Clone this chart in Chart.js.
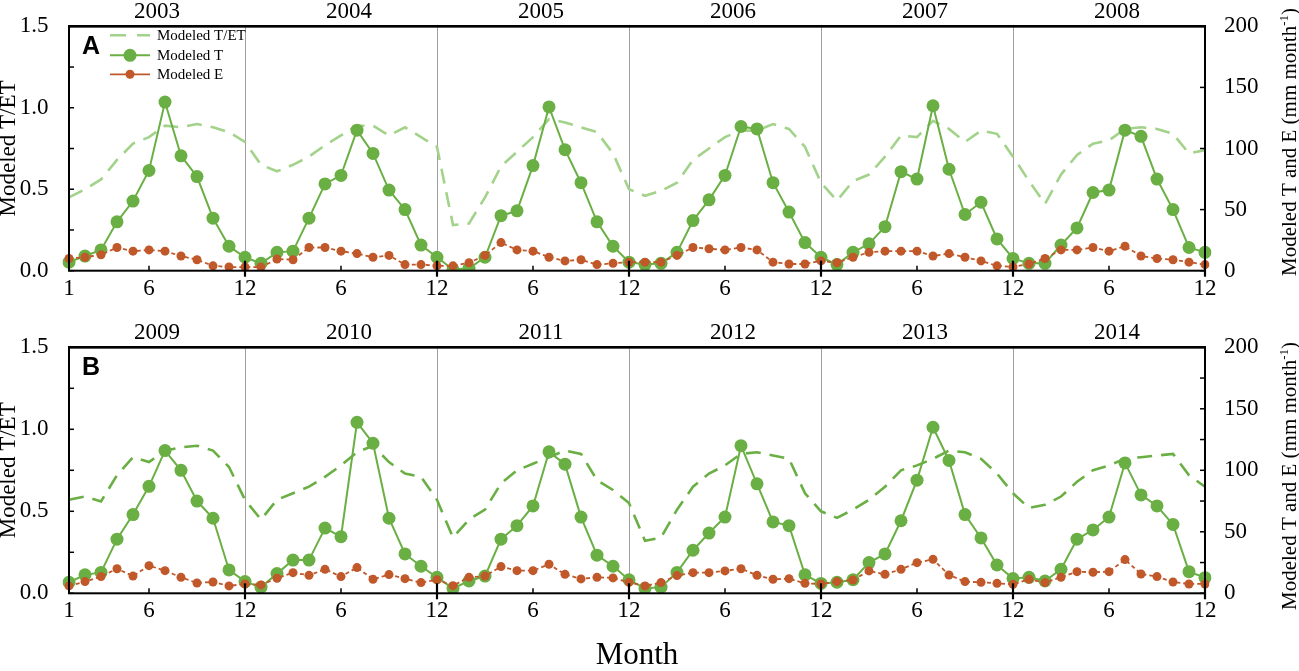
<!DOCTYPE html>
<html>
<head>
<meta charset="utf-8">
<script src="https://cdn.jsdelivr.net/npm/chart.js@4.4.1/dist/chart.umd.min.js"></script>
<style>
  html, body { margin: 0; padding: 0; background: #fff; }
  #wrap { position: relative; width: 1299px; height: 671px; }
  .panel { position: absolute; left: 0; width: 1299px; }
  #pa { top: 0; height: 300px; }
  #pb { top: 300px; height: 371px; }
</style>
</head>
<body>
<div id="wrap">
  <div class="panel" id="pa"><canvas id="chartA"></canvas></div>
  <div class="panel" id="pb"><canvas id="chartB"></canvas></div>
</div>
<script>
// ---- data ----
const months = [1, 2, 3, 4, 5, 6, 7, 8, 9, 10, 11, 12];
const labelMonths = [6, 12];          // months that get an x label (plus the very first "1")
const yearsA = ['2003', '2004', '2005', '2006', '2007', '2008'];
const yearsB = ['2009', '2010', '2011', '2012', '2013', '2014'];
const seriesNames = ['Modeled T/ET', 'Modeled T', 'Modeled E'];

// panel A, modeled T/ET (left axis)
const ratioA = [
  0.45, 0.50, 0.56, 0.68, 0.78, 0.82, 0.89, 0.88, 0.90, 0.88, 0.85, 0.79,
  0.65, 0.61, 0.65, 0.70, 0.77, 0.83, 0.89, 0.89, 0.83, 0.88, 0.82, 0.76,
  0.28, 0.29, 0.45, 0.64, 0.73, 0.82, 0.93, 0.91, 0.88, 0.85, 0.72, 0.50,
  0.46, 0.49, 0.54, 0.68, 0.75, 0.82, 0.86, 0.86, 0.90, 0.87, 0.76, 0.54,
  0.43, 0.55, 0.59, 0.70, 0.83, 0.82, 0.92, 0.87, 0.79, 0.86, 0.84, 0.70,
  0.55, 0.41, 0.59, 0.71, 0.78, 0.80, 0.87, 0.88, 0.87, 0.84, 0.72, 0.74
];
// panel A, modeled T (mm month-1, right axis)
const transA = [
  7, 12, 17, 40, 57, 82, 138, 94, 77, 43, 20, 11,
  6, 15, 16, 43, 71, 78, 115, 96, 66, 50, 21, 11,
  1, 2, 11, 45, 49, 86, 134, 99, 72, 40, 20, 7,
  5, 6, 15, 41, 58, 78, 118, 116, 72, 48, 23, 11,
  5, 15, 22, 36, 81, 75, 135, 83, 46, 56, 26, 10,
  6, 6, 21, 35, 64, 66, 115, 110, 75, 50, 19, 15
];
// panel A, modeled E (mm month-1, right axis)
const evapA = [
  10, 11, 13, 19, 16, 17, 16, 12, 9, 4, 3, 3,
  3, 9.5, 9, 19, 19, 16, 14, 11, 12.5, 5, 5, 4,
  4, 6.5, 12.5, 23, 17, 16, 11, 8, 9, 5, 6, 7,
  7, 7, 12.5, 19, 18, 17, 19, 17, 7, 5.5, 5.5, 8,
  6.5, 11, 15, 16, 16, 16, 12, 14, 11, 8, 4, 3,
  5.5, 10, 17, 17, 19, 16, 20, 12, 10, 9, 7, 5
];
// panel B
const ratioB = [
  0.57, 0.59, 0.56, 0.72, 0.83, 0.80, 0.87, 0.89, 0.90, 0.87, 0.77, 0.57,
  0.45, 0.57, 0.61, 0.65, 0.71, 0.78, 0.86, 0.90, 0.80, 0.73, 0.71, 0.57,
  0.34, 0.45, 0.51, 0.67, 0.75, 0.79, 0.83, 0.87, 0.85, 0.69, 0.63, 0.55,
  0.32, 0.34, 0.51, 0.65, 0.73, 0.78, 0.85, 0.86, 0.84, 0.82, 0.61, 0.50,
  0.46, 0.51, 0.57, 0.65, 0.75, 0.78, 0.82, 0.87, 0.86, 0.82, 0.73, 0.61,
  0.52, 0.54, 0.59, 0.68, 0.75, 0.78, 0.82, 0.83, 0.84, 0.85, 0.72, 0.65
];
const transB = [
  9, 15, 17, 44, 64, 87, 116, 100, 75, 61, 19, 9.5,
  5, 16, 27, 27, 53, 46, 139, 122, 61, 32, 22, 13,
  4, 10, 14, 44, 55, 71, 115, 105, 62, 31, 22, 11,
  4, 5, 17, 35, 49, 62, 120, 89, 58, 55, 15, 8,
  9, 11, 25, 32, 59, 92, 135, 108, 64, 45, 23, 12,
  13, 10, 19.5, 44, 51.5, 62, 106, 80, 71, 56, 17.6, 12.7
];
const evapB = [
  6, 9.5, 13.6, 20, 14, 22.5, 18.4, 13, 8.4, 9.2, 6, 7.6,
  6.8, 12.2, 16.8, 14.6, 19.5, 13.6, 20.9, 11.4, 15.2, 11.9, 8.7, 11,
  6.2, 13, 14, 21.7, 18.4, 18.4, 23.6, 15.4, 11.7, 13, 12.5, 8.9,
  6, 8.7, 14.4, 16.8, 16.8, 18.2, 20, 14.6, 11.4, 11.9, 8.1, 7.6,
  9.5, 10.8, 18.2, 15.4, 19.5, 24.9, 27.6, 14.9, 9.5, 8.9, 8.1, 7.3,
  11.4, 8.7, 13, 17.6, 17.1, 17.6, 27.4, 15.7, 13.6, 9.2, 7.6, 7.6
];

const GREEN = '#6aaf43';
const LIGHT_GREEN = '#a3d28b';
const ORANGE = '#c0582a';
const SERIF = '"Liberation Serif", "Times New Roman", serif';
const SANS = '"Liberation Sans", Arial, sans-serif';

// frame, inward ticks, year labels, panel letter, right title, legend
const panelDecor = {
  id: 'panelDecor',
  afterDraw(chart, args, o) {
    const { ctx, chartArea: a } = chart;
    const x = chart.scales.x, yl = chart.scales.yL, yr = chart.scales.yR;
    const line = (x1, y1, x2, y2) => { ctx.beginPath(); ctx.moveTo(x1, y1); ctx.lineTo(x2, y2); ctx.stroke(); };
    ctx.save();
    ctx.strokeStyle = '#000';

    ctx.lineWidth = 1.5;
    yl.ticks.forEach(t => { const py = yl.getPixelForValue(t.value); line(a.left, py, a.left + 5, py); });
    yr.ticks.forEach(t => { const py = yr.getPixelForValue(t.value); line(a.right - 5, py, a.right, py); });
    x.ticks.forEach(t => {
      const m = months[t.value % 12];
      const px = x.getPixelForValue(t.value);
      if (m === 6) { ctx.lineWidth = 1.5; line(px, a.bottom, px, a.bottom - 5); }
      if (m === 12) { ctx.lineWidth = 2.2; line(px, a.bottom + 6, px, a.bottom - 10); }
    });

    ctx.lineWidth = 2;
    ctx.strokeRect(a.left, a.top, a.right - a.left, a.bottom - a.top);
    ctx.lineWidth = 2.6;
    line(a.left - 1, a.top, a.right + 1, a.top);

    ctx.fillStyle = '#000';
    ctx.font = '23px ' + SERIF;
    ctx.textAlign = 'center';
    ctx.textBaseline = 'middle';
    o.years.forEach((y, k) => ctx.fillText(y, x.getPixelForValue(k * 12 + 5.5), a.top - 14));

    ctx.font = 'bold 25px ' + SANS;
    ctx.textAlign = 'left';
    ctx.textBaseline = 'alphabetic';
    ctx.fillText(o.letter, 82, a.top + 28);

    // right axis title, reading bottom to top, with superscript -1
    const main = 'Modeled T and E (mm month', sup = '-1', tail = ')';
    ctx.font = '21px ' + SERIF;
    const wMain = ctx.measureText(main).width, wTail = ctx.measureText(tail).width;
    ctx.font = '13px ' + SERIF;
    const wSup = ctx.measureText(sup).width;
    const total = wMain + wSup + wTail;
    ctx.save();
    ctx.translate(1296, o.rightTitleY);
    ctx.rotate(-Math.PI / 2);
    ctx.textAlign = 'left';
    let cx = -total / 2;
    ctx.font = '21px ' + SERIF; ctx.fillText(main, cx, 0); cx += wMain;
    ctx.font = '13px ' + SERIF; ctx.fillText(sup, cx, -8); cx += wSup;
    ctx.font = '21px ' + SERIF; ctx.fillText(tail, cx, 0);
    ctx.restore();

    if (o.legend) {
      const ds = chart.data.datasets;
      const rows = [a.top + 9, a.top + 29, a.top + 48];
      ds.forEach((d, i) => {
        const ry = rows[i];
        ctx.strokeStyle = d.borderColor;
        ctx.lineWidth = d.borderWidth;
        ctx.setLineDash(i === 0 ? [16, 11] : []);
        line(110, ry, 150, ry);
        ctx.setLineDash([]);
        if (d.pointRadius > 0) {
          ctx.fillStyle = d.pointBackgroundColor;
          ctx.beginPath(); ctx.arc(130, ry, d.pointRadius, 0, Math.PI * 2); ctx.fill();
        }
        ctx.fillStyle = '#000';
        ctx.font = '15px ' + SERIF;
        ctx.textBaseline = 'middle';
        ctx.fillText(d.label, 157, ry + 1);
      });
    }
    ctx.restore();
  }
};

function makePanel(id, years, ratio, trans, evap, cfg) {
  const categories = years.flatMap(y => months.map(m => y + '-' + m));
  const last = categories.length - 1;
  return new Chart(document.getElementById(id), {
    type: 'line',
    data: {
      labels: categories,
      datasets: [
        { label: seriesNames[0], data: ratio, yAxisID: 'yL', borderColor: cfg.ratioColor,
          borderWidth: 2.6, borderDash: [15, 9], pointRadius: 0, tension: 0, order: 3 },
        { label: seriesNames[1], data: trans, yAxisID: 'yR', borderColor: GREEN,
          borderWidth: 2, pointRadius: 6.5, pointBorderWidth: 0,
          pointBackgroundColor: GREEN, tension: 0, order: 2 },
        { label: seriesNames[2], data: evap, yAxisID: 'yR', borderColor: ORANGE,
          borderWidth: 1.8, borderDash: [4, 3], pointRadius: 4.5, pointBorderWidth: 0,
          pointBackgroundColor: ORANGE, tension: 0, order: 1 }
      ]
    },
    options: {
      responsive: true,
      maintainAspectRatio: false,
      animation: false,
      events: [],
      layout: { padding: { top: cfg.padTop, left: 0, right: 0, bottom: 0 } },
      plugins: {
        legend: { display: false },
        tooltip: { enabled: false },
        panelDecor: { years: years, letter: cfg.letter, legend: cfg.legend, rightTitleY: cfg.rightTitleY }
      },
      scales: {
        x: {
          type: 'category',
          offset: false,
          afterFit: s => { s.height = cfg.xHeight; },
          border: { display: false },
          grid: {
            drawTicks: false,
            lineWidth: 1,
            color: c => (c.index % 12 === 11 && c.index < last) ? '#a0a0a0' : 'rgba(0,0,0,0)'
          },
          ticks: {
            autoSkip: false, maxRotation: 0, padding: 4, color: '#000',
            font: { family: SERIF, size: 23 },
            callback: (v, i) => {
              if (i === 0) return String(months[0]);
              const m = months[i % 12];
              return labelMonths.includes(m) ? String(m) : '';
            }
          },
          title: {
            display: cfg.monthTitle, text: 'Month', color: '#000', padding: 0,
            font: { family: SERIF, size: 31, lineHeight: 1 }
          }
        },
        yL: {
          position: 'left', min: 0, max: 1.5,
          afterFit: s => { s.width = 69; },
          border: { display: false },
          grid: { display: false },
          ticks: {
            stepSize: 0.25, padding: 12.5, color: '#000',
            font: { family: SERIF, size: 23 },
            callback: v => (Math.round(v * 4) % 2 === 0 ? v.toFixed(1) : '')
          },
          title: {
            display: true, text: 'Modeled T/ET', color: '#000', padding: 0,
            font: { family: SERIF, size: 23, lineHeight: 0.8 }
          }
        },
        yR: {
          position: 'right', min: 0, max: 200,
          afterFit: s => { s.width = 94; },
          border: { display: false },
          grid: { display: false },
          ticks: {
            stepSize: 25, padding: 11, color: '#000',
            font: { family: SERIF, size: 23 },
            callback: v => (v % 50 === 0 ? String(v) : '')
          }
        }
      }
    },
    plugins: [panelDecor]
  });
}

makePanel('chartA', yearsA, ratioA, transA, evapA, {
  letter: 'A', legend: true, ratioColor: LIGHT_GREEN,
  padTop: 25, xHeight: 29.3, monthTitle: false, rightTitleY: 142
});
makePanel('chartB', yearsB, ratioB, transB, evapB, {
  letter: 'B', legend: false, ratioColor: GREEN,
  padTop: 47.3, xHeight: 77.7, monthTitle: true, rightTitleY: 176
});
</script>
</body>
</html>
